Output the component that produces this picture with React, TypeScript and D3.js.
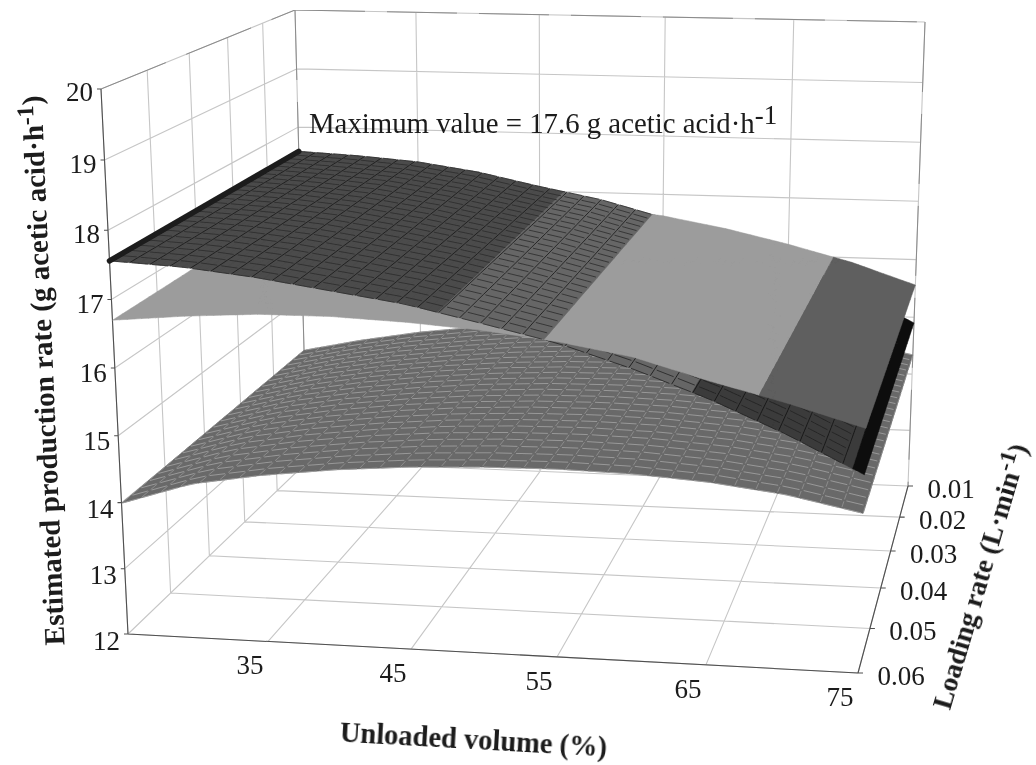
import React from "react";
import * as d3 from "d3";

// axis values
const unloadedTicks = [25, 35, 45, 55, 65, 75];
const loadingTicks = [0.01, 0.02, 0.03, 0.04, 0.05, 0.06];
const rateTicks = [12, 13, 14, 15, 16, 17, 18, 19, 20];

// surface heights, at these unloaded volumes
const unloadedGrid = [25, 30, 35, 40, 45, 50, 55, 60, 65, 70, 75];
const upperFront = [17.56, 17.51, 17.4, 17.25, 17.1, 16.87, 16.63, 16.3, 15.91, 15.45, 14.92];
const upperBack = [17.58, 17.53, 17.45, 17.3, 17.08, 16.88, 16.6, 16.27, 15.89, 15.44, 14.9];
const middleFront = [16.7, 16.8, 16.87, 16.88, 16.84, 16.77, 16.65, 16.47, 16.17, 15.9, 15.59];
const middleBack = [16.72, 16.8, 16.86, 16.87, 16.83, 16.74, 16.63, 16.44, 16.2, 15.92, 15.56];
const lowerFront = [13.99, 14.33, 14.51, 14.64, 14.73, 14.78, 14.8, 14.78, 14.71, 14.58, 14.36];
const lowerBack = [14.05, 14.27, 14.45, 14.58, 14.68, 14.74, 14.76, 14.74, 14.68, 14.55, 14.34];

// picture position of the box corners, at unloaded 25 and 75
const cornersAt25 = { frontLow: [128, 634], frontHigh: [101, 89], backLow: [307, 462], backHigh: [295, 10] };
const cornersAt75 = { frontLow: [858, 673], frontHigh: [876, 113], backLow: [908, 486], backHigh: [925, 22] };

const xScale = d3.scaleLinear().domain([25, 75]).range([0, 1]);
const loadScale = d3.scaleLinear().domain([0.06, 0.01]).range([0, 1]);
const rateScale = d3.scaleLinear().domain([12, 20]).range([0, 1]);

// foreshortening of each axis
const warp = (t: number, a: number) => (a * t) / (1 + t * (a - 1));

const mix = (a: number[], b: number[], t: number) => [a[0] + (b[0] - a[0]) * t, a[1] + (b[1] - a[1]) * t];

function project(x: number, load: number, rate: number) {
  const u = warp(xScale(x), 0.95);
  const v = warp(loadScale(load), 1.25);
  const w = warp(rateScale(rate), 0.953);
  const side = (c: typeof cornersAt25) => mix(mix(c.frontLow, c.frontHigh, w), mix(c.backLow, c.backHigh, w), v);
  return mix(side(cornersAt25), side(cornersAt75), u);
}

const makeSurface = (front: number[], back: number[]) => {
  const f = d3.scaleLinear().domain(unloadedGrid).range(front);
  const b = d3.scaleLinear().domain(unloadedGrid).range(back);
  return (x: number, load: number) => f(x) + (b(x) - f(x)) * loadScale(load);
};

const upper = makeSurface(upperFront, upperBack);
const middle = makeSurface(middleFront, middleBack);
const lower = makeSurface(lowerFront, lowerBack);

const upperBand = (z: number) => (z >= 17 ? "#4b4b4b" : z >= 16 ? "#666666" : z >= 15 ? "#3b3b3b" : "#0c0c0c");
const middleBand = (z: number) => (z >= 16 ? "#9c9c9c" : "#5f5f5f");
const lowerBand = () => "#696969";

type Surf = (x: number, load: number) => number;
type Keep = (x: number, load: number) => boolean;

const fillCols = d3.range(0, 101).map((i) => 25 + i * 0.5);
const fillRows = d3.range(0, 25).map((i) => 0.01 + i * 0.002);
const meshCols = d3.range(0, 37).map((i) => 25 + (i * 50) / 36);
const meshRows = d3.range(0, 26).map((i) => 0.01 + i * 0.002);

const pt = (s: Surf, x: number, l: number) => project(x, l, s(x, l)).map((n) => n.toFixed(1)).join(",");

// cells along one row of the surface, cut where the colour band or the layer changes
function fillPaths(s: Surf, band: (z: number) => string, keep: Keep) {
  const out = new Map<string, string>();
  fillRows.forEach((la) => {
    const lb = la + 0.002;
    const lm = la + 0.001;
    const sig = (x: number) => `${keep(x, lm)}${band(s(x, lm))}`;
    const stops: number[] = [];
    fillCols.forEach((x, i) => {
      stops.push(x);
      if (i === fillCols.length - 1 || sig(x) === sig(fillCols[i + 1])) return;
      let lo = x;
      let hi = fillCols[i + 1];
      d3.range(12).forEach(() => {
        const mid = (lo + hi) / 2;
        if (sig(mid) === sig(lo)) lo = mid;
        else hi = mid;
      });
      stops.push(lo);
    });
    d3.pairs(stops).forEach(([xa, xb]) => {
      const xm = (xa + xb) / 2;
      if (!keep(xm, lm)) return;
      const col = band(s(xm, lm));
      const d = `M${pt(s, xa, la)}L${pt(s, xb, la)}L${pt(s, xb, lb)}L${pt(s, xa, lb)}Z`;
      out.set(col, (out.get(col) || "") + d);
    });
  });
  return Array.from(out.entries());
}

function meshPaths(s: Surf, keep: Keep, colGap: number) {
  let rows = "";
  let cols = "";
  const dx = 50 / 36;
  meshRows.forEach((l) => {
    meshCols.slice(0, -1).forEach((x) => {
      if (!keep(x + dx / 2, l)) return;
      rows += `M${pt(s, x + dx * 0.1, l)}L${pt(s, x + dx * 0.9, l)}`;
    });
  });
  meshCols.forEach((x) => {
    meshRows.slice(0, -1).forEach((l) => {
      if (!keep(x, l + 0.001)) return;
      cols += `M${pt(s, x, l + 0.002 * colGap)}L${pt(s, x, l + 0.002 * (1 - colGap))}`;
    });
  });
  return { rows, cols };
}

const line = (a: number[], b: number[]) => `M${a[0]},${a[1]}L${b[0]},${b[1]}`;

function gridPaths() {
  let g = "";
  rateTicks.forEach((z) => {
    g += line(project(25, 0.06, z), project(25, 0.01, z));
    g += line(project(25, 0.01, z), project(75, 0.01, z));
  });
  loadingTicks.forEach((l) => {
    g += line(project(25, l, 12), project(75, l, 12));
    g += line(project(25, l, 12), project(25, l, 20));
  });
  unloadedTicks.forEach((x) => {
    g += line(project(x, 0.06, 12), project(x, 0.01, 12));
    g += line(project(x, 0.01, 12), project(x, 0.01, 20));
  });
  return g;
}

// edges of the box that print darker than the grid
function frameEdges() {
  let e = line(project(25, 0.06, 20), project(25, 0.01, 20));
  e += line(project(25, 0.01, 20), project(75, 0.01, 20));
  e += line(project(75, 0.01, 20), project(75, 0.01, 12));
  e += line(project(25, 0.01, 20), project(25, 0.01, 12));
  return e;
}

function axisPaths() {
  let a = line(project(25, 0.06, 12), project(25, 0.06, 20));
  a += line(project(25, 0.06, 12), project(75, 0.06, 12));
  a += line(project(75, 0.06, 12), project(75, 0.01, 12));
  rateTicks.forEach((z) => {
    const p = project(25, 0.06, z);
    a += line(p, [p[0] - 4, p[1]]);
  });
  loadingTicks.forEach((l) => {
    const p = project(75, l, 12);
    a += line(p, [p[0] + 5, p[1]]);
  });
  return a;
}

const font = "'Liberation Serif', 'Times New Roman', serif";

export default function App() {
  const belowMiddle: Keep = (x, l) => upper(x, l) < middle(x, l);
  const aboveMiddle: Keep = (x, l) => upper(x, l) >= middle(x, l);
  const all: Keep = () => true;
  const lowerMesh = meshPaths(lower, all, 0.12);
  // the black band at the far end shows no mesh
  const upperLowMesh = meshPaths(upper, (x, l) => belowMiddle(x, l) && upper(x, l) >= 15, 0);
  const upperHighMesh = meshPaths(upper, aboveMiddle, 0);

  const fills = (s: Surf, band: (z: number) => string, keep: Keep, key: string) =>
    fillPaths(s, band, keep).map(([c, d]) => <path key={key + c} d={d} fill={c} stroke={c} strokeWidth={0.5} />);

  const mesh = (m: { rows: string; cols: string }, rowCol: string, colCol: string, w: number) => (
    <g fill="none">
      <path d={m.rows} stroke={rowCol} strokeWidth={w} />
      <path d={m.cols} stroke={colCol} strokeWidth={w} />
    </g>
  );

  const edgeA = project(25, 0.06, upper(25, 0.06));
  const edgeB = project(25, 0.01, upper(25, 0.01));

  return (
    <svg
      width={1036}
      height={765}
      style={{ position: "absolute", left: 0, top: 0, background: "#fff" }}
      fontFamily={font}
      fill="#1a1a1a"
    >
      <defs>
        <filter id="scan" x="0" y="0" width="100%" height="100%">
          <feGaussianBlur stdDeviation={0.5} />
        </filter>
      </defs>
      <g filter="url(#scan)">
        <path d={gridPaths()} fill="none" stroke="#c6c6c6" strokeWidth={1.1} />
        <path d={frameEdges()} fill="none" stroke="#8a8a8a" strokeWidth={1} strokeDasharray="70 22" />
        <path d={axisPaths()} fill="none" stroke="#505050" strokeWidth={1.1} />

        {fills(lower, lowerBand, all, "low")}
        {mesh(lowerMesh, "#9e9e9e", "#8f8f8f", 0.9)}

        {fills(upper, upperBand, belowMiddle, "ub")}
        {mesh(upperLowMesh, "#222", "#111", 0.8)}

        {fills(middle, middleBand, all, "mid")}

        {fills(upper, upperBand, aboveMiddle, "ua")}
        {mesh(upperHighMesh, "#2b2b2b", "#161616", 0.8)}

        <path d={line(edgeA, edgeB)} stroke="#1c1c1c" strokeWidth={5.5} strokeLinecap="round" />

        {rateTicks.map((z) => {
          const p = project(25, 0.06, z);
          return (
            <text key={z} x={p[0] - 8} y={p[1] + 12 + (20 - z) * 0.5} fontSize={27} textAnchor="end">
              {z}
            </text>
          );
        })}
        {unloadedTicks.slice(1).map((x) => {
          const p = project(x, 0.06, 12);
          return (
            <text key={x} x={p[0] - 18} y={p[1] + 33} fontSize={27} textAnchor="middle">
              {x}
            </text>
          );
        })}
        {loadingTicks.map((l) => {
          const p = project(75, l, 12);
          return (
            <text key={l} x={p[0] + 43} y={p[1] + 12} fontSize={27} textAnchor="middle">
              {l.toFixed(2)}
            </text>
          );
        })}

        <text x={309} y={133} fontSize={28.8}>
          Maximum value = 17.6 g acetic acid·h
          <tspan dy={-9} fontSize={27}>-1</tspan>
        </text>

        <text
          transform="translate(473,749) rotate(3.2)"
          textAnchor="middle"
          fontSize={28.5}
          fontWeight="bold"
        >
          Unloaded volume (%)
        </text>
        <text
          transform="translate(53,370) rotate(-92.4)"
          textAnchor="middle"
          fontSize={29}
          fontWeight="bold"
        >
          Estimated production rate (g acetic acid·h
          <tspan dy={-9} fontSize={24}>-1</tspan>
          <tspan dy={9}>)</tspan>
        </text>
        <text
          transform="translate(989,579) rotate(-73.5)"
          textAnchor="middle"
          fontSize={28}
          fontWeight="bold"
        >
          Loading rate (L·min
          <tspan dy={-9} fontSize={24}>-1</tspan>
          <tspan dy={9}>)</tspan>
        </text>
      </g>
    </svg>
  );
}
